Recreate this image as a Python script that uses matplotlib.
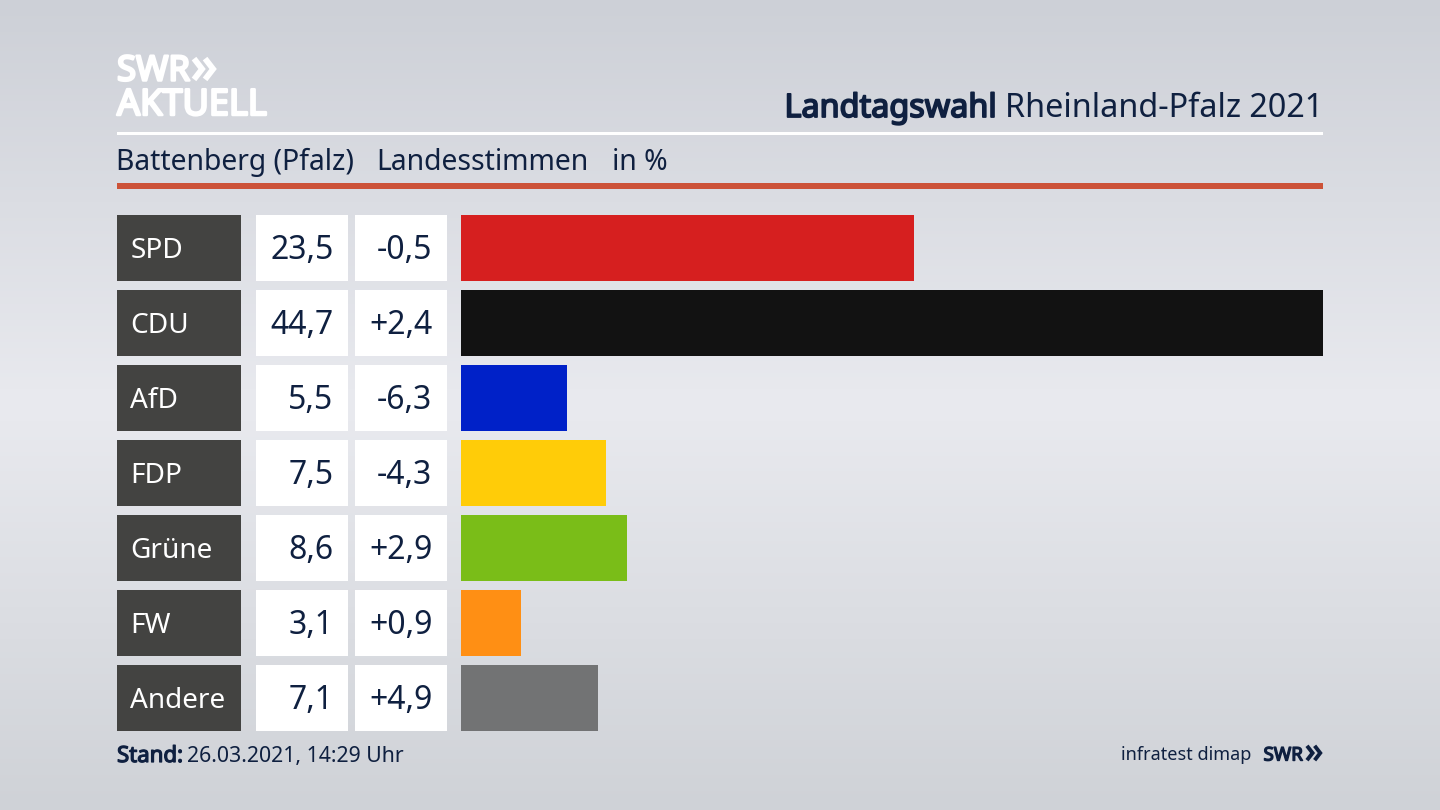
#!/usr/bin/env python3
"""Landtagswahl RLP 2021 result chart, Battenberg (Pfalz)."""

import numpy as np
import matplotlib
matplotlib.use('Agg')
import matplotlib.pyplot as plt
import matplotlib.patheffects as pe
from matplotlib.patches import Rectangle
from matplotlib.colors import LinearSegmentedColormap

parties = ['SPD', 'CDU', 'AfD', 'FDP', 'Grüne', 'FW', 'Andere']
shares = [23.5, 44.7, 5.5, 7.5, 8.6, 3.1, 7.1]
changes = [-0.5, 2.4, -6.3, -4.3, 2.9, 0.9, 4.9]
bar_colors = ['#D61F1F', '#121212', '#0021C8', '#FFCC08', '#7ABD18', '#FF8F14', '#727374']

# -- theme --------------------------------------------------------------------
NAVY = '#0F2040'
RED_RULE = '#CC5238'
LABEL_BG = '#434341'
FONT = 'Noto Sans'
W, H = 1440, 810
ROW_TOP = 215
ROW_STEP = 75
ROW_H = 66.4
TEXT_DY = 2.5   # Noto sits a bit high with va='center'
# -----------------------------------------------------------------------------

plt.rcParams['font.family'] = [FONT, 'DejaVu Sans']


def fmt_de(value, signed=False):
    text = f'{value:+.1f}' if signed else f'{value:.1f}'
    return text.replace('.', ',')


def heavy(text, width, color):
    """Noto Sans comes without a bold cut here, so thicken it with a stroke."""
    text.set_path_effects([pe.withStroke(linewidth=width, foreground=color)])
    return text


def chevrons(ax, x, y, size, color, lw):
    """Two small arrows of the SWR logo."""
    for dx in (0, size * 0.85):
        ax.plot([x + dx, x + dx + size * 0.62, x + dx],
                [y - size * 0.8, y, y + size * 0.8],
                color=color, lw=lw, solid_joinstyle='miter', solid_capstyle='butt')


fig = plt.figure(figsize=(W / 100, H / 100), dpi=100)

# page in pixel coordinates
bg = fig.add_axes([0, 0, 1, 1])
bg.set_xlim(0, W)
bg.set_ylim(H, 0)
bg.axis('off')
cmap = LinearSegmentedColormap.from_list(
    'page', [(0, '#CDD0D7'), (0.5, '#E9EAEF'), (1, '#CFD2D7')])
bg.imshow(np.linspace(0, 1, 256)[:, None], cmap=cmap, aspect='auto',
          extent=(0, W, H, 0), vmin=0, vmax=1)

# logo
heavy(bg.text(117, 71.5, 'SWR', color='white', fontsize=25, va='center', ha='left'), 1.8, 'white')
chevrons(bg, 194, 69, 13, 'white', 4.2)
heavy(bg.text(117, 106, 'AKTUELL', color='white', fontsize=26, va='center', ha='left'), 1.8, 'white')

# header
bg.add_patch(Rectangle((117, 132), 1206, 3, color='white', lw=0))
bg.add_patch(Rectangle((117, 183), 1206, 5.5, color=RED_RULE, lw=0))
reg = bg.text(1323, 106 + TEXT_DY, 'Rheinland-Pfalz 2021', color=NAVY, fontsize=23.3,
              ha='right', va='center')
fig.canvas.draw()
box = reg.get_window_extent()
heavy(bg.text(box.x0 - 8, 106 + TEXT_DY, 'Landtagswahl', color=NAVY, fontsize=23.3,
              ha='right', va='center'), 1.3, NAVY)
for x, label in zip((116.5, 376.5, 611.5), ('Battenberg (Pfalz)', 'Landesstimmen', 'in %')):
    bg.text(x, 160 + TEXT_DY, label, color=NAVY, fontsize=20.4, ha='left', va='center')

# table cells
for i, (party, share, change) in enumerate(zip(parties, shares, changes)):
    y = ROW_TOP + i * ROW_STEP
    mid = y + ROW_H / 2 + TEXT_DY
    bg.add_patch(Rectangle((117, y), 124, ROW_H, color=LABEL_BG, lw=0))
    bg.add_patch(Rectangle((256, y), 92, ROW_H, color='white', lw=0))
    bg.add_patch(Rectangle((355, y), 92, ROW_H, color='white', lw=0))
    bg.text(130.5, mid, party, color='white', fontsize=20.1, ha='left', va='center')
    bg.text(333.5, mid, fmt_de(share), color=NAVY, fontsize=23, ha='right', va='center')
    bg.text(432.5, mid, fmt_de(change, signed=True), color=NAVY, fontsize=23, ha='right', va='center')

# bars
bar_top = 1 - ROW_TOP / H
bar_h = (ROW_STEP * 6 + ROW_H) / H
ax = fig.add_axes([461 / W, bar_top - bar_h, (1323 - 461) / W, bar_h])
ax.patch.set_alpha(0)
ypos = np.arange(len(parties))
ax.barh(ypos, shares, height=ROW_H / ROW_STEP, color=bar_colors)
ax.set_xlim(0, max(shares))
half = ROW_H / ROW_STEP / 2
ax.set_ylim(len(parties) - 1 + half, -half)
ax.axis('off')

# footer
stand = heavy(bg.text(117, 754 + TEXT_DY, 'Stand:', color=NAVY, fontsize=16,
                      ha='left', va='center'), 0.9, NAVY)
bg.text(187, 754 + TEXT_DY, '26.03.2021, 14:29 Uhr', color=NAVY, fontsize=15.3,
        ha='left', va='center')
bg.text(1251, 753 + TEXT_DY, 'infratest dimap', color=NAVY, fontsize=13, ha='right', va='center')
heavy(bg.text(1263.5, 753 + TEXT_DY, 'SWR', color=NAVY, fontsize=13.5, ha='left', va='center'), 1.0, NAVY)
chevrons(bg, 1307, 753, 9, NAVY, 2.8)

fig.savefig('out.png', dpi=100)
plt.close(fig)
